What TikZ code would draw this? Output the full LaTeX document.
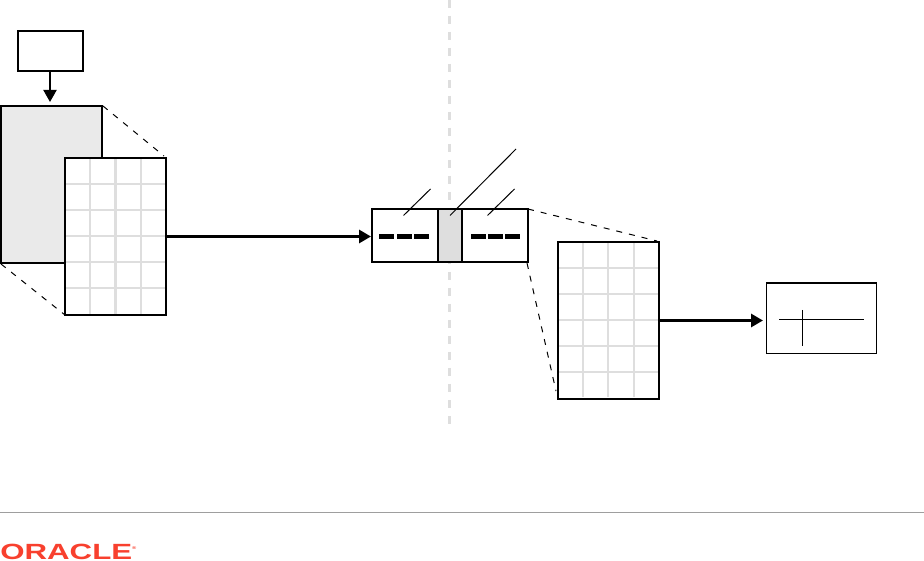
\documentclass[tikz,border=0pt]{standalone}
\usepackage{fontspec}
\setmainfont{Liberation Sans}
\usetikzlibrary{arrows.meta}
\definecolor{gridgray}{HTML}{DEDEDE}
\definecolor{panelgray}{HTML}{EAEAEA}
\definecolor{oraclered}{HTML}{F8402E}
\tikzset{
  boxbase/.style={draw=black,line width=2pt,fill=white,inner sep=0pt,outer sep=0pt,anchor=north west},
  gridbox/.style={boxbase,minimum width=101pt,minimum height=157pt},
  gridline/.style={draw=gridgray,line width=2.2pt},
  flow/.style={draw=black,line width=3pt,-{Triangle[length=12pt,width=13pt]}},
  flowthin/.style={draw=black,line width=2pt,-{Triangle[length=12pt,width=13pt]}},
  zoomline/.style={draw=black,line width=1pt,dash pattern=on 6pt off 7pt},
  leader/.style={draw=black,line width=1pt},
  pulse/.style={draw=black,line width=5pt},
}
\begin{document}
\begin{tikzpicture}[x=1pt,y=-1pt]
\useasboundingbox (0,0) rectangle (924,561);
% central dashed divider
\coordinate (divtop) at (449.5,0);
\coordinate (divbot) at (449.5,424);
\draw[draw=gridgray,line width=3pt,dash pattern=on 8pt off 8pt] (divtop) -- (divbot);
% zoom lines
\coordinate (gz1) at (103,106);
\coordinate (gz2) at (164,156);
\coordinate (gz3) at (1,264);
\coordinate (gz4) at (65,315);
\draw[zoomline] (gz1) -- (gz2);
\draw[zoomline] (gz3) -- (gz4);
\coordinate (mz1) at (528,209);
\coordinate (mz2) at (657,241);
\coordinate (mz3) at (527,263);
\coordinate (mz4) at (556,391);
\draw[zoomline] (mz1) -- (mz2);
\draw[zoomline] (mz3) -- (mz4);
% source
\node[boxbase,minimum width=65pt,minimum height=40pt] (src) at (18,31) {};
\node[boxbase,fill=panelgray,minimum width=101pt,minimum height=157pt] (panel) at (1,106) {};
\coordinate (srcin) at (50,102);
\draw[flowthin] (src.south -| srcin) -- (srcin);
% left grid
\node[gridbox] (gridA) at (65,158) {};
\foreach \xx in {90,115.5,141} \draw[gridline] (\xx,159) -- (\xx,314);
\foreach \yy in {184,210,236,262,288} \draw[gridline] (66,\yy) -- (165,\yy);
\node[gridbox,fill=none] at (65,158) {};
% middle block
\node[boxbase,minimum width=66pt,minimum height=53pt] (mL) at (372,209) {};
\node[boxbase,fill=gridgray,minimum width=24pt,minimum height=53pt] (mC) at (438,209) {};
\node[boxbase,minimum width=66pt,minimum height=53pt] (mR) at (462,209) {};
\foreach \a/\b in {379/394,397/412,414/429,471/486,488/503,505/520}
  \draw[pulse] (\a,236.5) -- (\b,236.5);
\coordinate (l1a) at (403.5,215.5); \coordinate (l1b) at (430.5,189);
\coordinate (l2a) at (450,215.5);   \coordinate (l2b) at (516,149);
\coordinate (l3a) at (487.5,215.5); \coordinate (l3b) at (514.5,189);
\draw[leader] (l1a) -- (l1b);
\draw[leader] (l2a) -- (l2b);
\draw[leader] (l3a) -- (l3b);
\coordinate (midin) at (371,236.5);
\draw[flow] (gridA.east |- midin) -- (midin);
% right grid
\node[gridbox] (gridB) at (558,242) {};
\foreach \xx in {583,608,634} \draw[gridline] (\xx,243) -- (\xx,397);
\foreach \yy in {268,294,320,346,372} \draw[gridline] (559,\yy) -- (658,\yy);
\node[gridbox,fill=none] at (558,242) {};
% result
\node[boxbase,line width=1pt,minimum width=110pt,minimum height=70.5pt] (res) at (766,283) {};
\draw[line width=2pt] (res.north west) -- (res.north east);
\draw[leader] (779,319.5) -- (864,319.5);
\draw[leader] (802.5,310) -- (802.5,346);
\coordinate (resin) at (763,320.5);
\draw[flow] (gridB.east |- resin) -- (resin);
% footer
\coordinate (fl) at (0,512.5); \coordinate (fr) at (924,512.5);
\draw[draw=black!38,line width=1pt] (fl) -- (fr);
\node[anchor=base west,inner sep=0pt,text=oraclered,xscale=1.42,font=\bfseries\fontsize{22}{22}\selectfont] (logo) at (0,559.8) {ORACLE\raisebox{10pt}{\fontsize{4}{4}\selectfont ®}};
\end{tikzpicture}
\end{document}
